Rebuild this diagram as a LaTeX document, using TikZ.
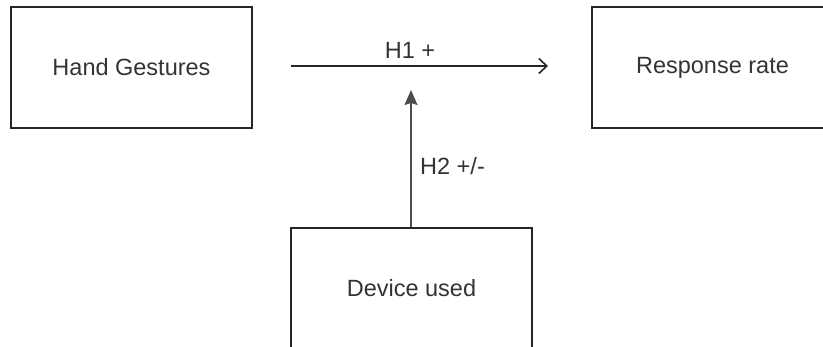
\documentclass[tikz,border=0pt]{standalone}
\usepackage{fontspec}
\setmainfont{Liberation Sans}
\usetikzlibrary{arrows.meta}
\definecolor{txt}{HTML}{333333}
\begin{document}
\begin{tikzpicture}[x=1pt,y=-1pt,
  box/.style={draw=black!85,line width=2pt,minimum width=241pt,minimum height=121pt,inner sep=0pt,font=\fontsize{23.5}{27}\selectfont,text=txt},
  lbl/.style={font=\fontsize{23.5}{27}\selectfont,text=txt,inner sep=0pt},
  conn/.style={line width=1.6pt,draw=black!85}]
\useasboundingbox (0,0) rectangle (823,347);
\clip (0,0) rectangle (823,347);
\node[box] (hg) at (131.5,67.5) {Hand Gestures};
\node[box] (rr) at (712.5,67.5) {Response rate};
\node[box] (du) at (411.5,288.5) {Device used};
\coordinate (hs) at (291,66);
\coordinate (he) at (548,66);
\coordinate (vt) at (411,90);
\draw[conn,-{Straight Barb[length=8pt,width=15pt,line width=1.6pt]}] (hs) -- (he);
\draw[conn,draw=black!70,-{Stealth[length=15pt,width=13pt,inset=2pt]}] (du.north -| vt) -- (vt);
\node[lbl] (h1) at (410,50) {H1 +};
\node[lbl,anchor=west] (h2) at (420,166) {H2 +/-};
\end{tikzpicture}
\end{document}
